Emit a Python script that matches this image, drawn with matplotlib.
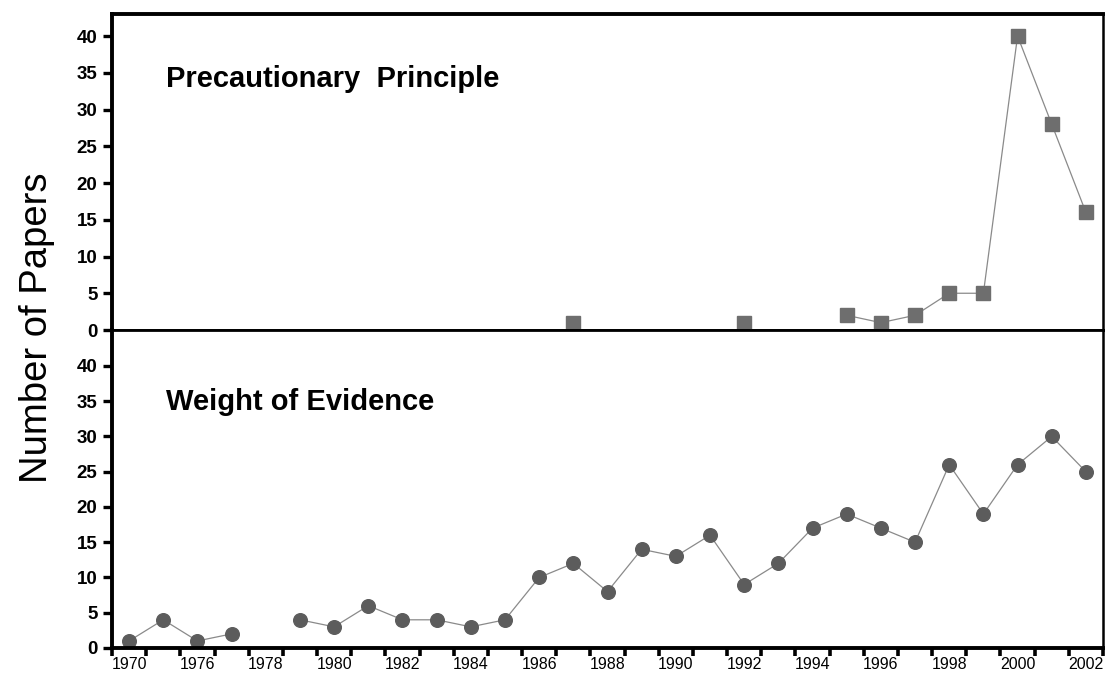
import numpy as np
from matplotlib import pyplot as plt

plt.rcParams['font.family'] = ['Liberation Sans', 'DejaVu Sans']

# years that have a slot on the x axis (1972-1975 are not in the data)
years = [1970, 1971, 1976, 1977, 1978, 1979, 1980, 1981, 1982, 1983,
         1984, 1985, 1986, 1987, 1988, 1989, 1990, 1991, 1992, 1993,
         1994, 1995, 1996, 1997, 1998, 1999, 2000, 2001, 2002]

nan = np.nan
precautionary = [nan, nan, nan, nan, nan, nan, nan, nan, nan, nan,
                 nan, nan, nan, 1, nan, nan, nan, nan, 1, nan,
                 nan, 2, 1, 2, 5, 5, 40, 28, 16]
weight_of_evidence = [1, 4, 1, 2, nan, 4, 3, 6, 4, 4,
                      3, 4, 10, 12, 8, 14, 13, 16, 9, 12,
                      17, 19, 17, 15, 26, 19, 26, 30, 25]

y_ticks = [0, 5, 10, 15, 20, 25, 30, 35, 40]
label_years = years[::2]

x = np.arange(len(years))

fig = plt.figure(figsize=(11.06, 6.8), dpi=100)
left, right = 112 / 1106, 1103 / 1106
top_ax = fig.add_axes([left, 1 - 330 / 680, right - left, 316 / 680])
bot_ax = fig.add_axes([left, 1 - 648 / 680, right - left, 318 / 680])

line_kw = dict(color='#8a8a8a', linewidth=0.9)

top_ax.plot(x, precautionary, marker='s', markersize=10.5,
            markerfacecolor='#6e6e6e', markeredgecolor='#6e6e6e',
            clip_on=False, **line_kw)
bot_ax.plot(x, weight_of_evidence, marker='o', markersize=9.8,
            markerfacecolor='#5c5c5c', markeredgecolor='#5c5c5c',
            clip_on=False, **line_kw)

top_ax.set_ylim(0, 43)
bot_ax.set_ylim(0, 45.1)

for ax in (top_ax, bot_ax):
    ax.set_xlim(-0.5, len(years) - 0.5)
    ax.set_yticks(y_ticks)
    ax.set_yticklabels([str(v) for v in y_ticks], fontsize=13.5,
                       fontweight='bold')
    ax.tick_params(axis='y', direction='out', length=6.5, width=2.4,
                   pad=4)
    for side in ('left', 'top', 'bottom'):
        ax.spines[side].set_linewidth(2.8)
    ax.spines['right'].set_linewidth(1.8)

top_ax.set_xticks([])
top_ax.spines['bottom'].set_linewidth(2.0)
bot_ax.spines['top'].set_linewidth(2.0)

# ticks on slot edges, year labels in the slot centres
bot_ax.set_xticks(np.arange(len(years) + 1) - 0.5)
bot_ax.set_xticklabels([])
bot_ax.set_xticks(x[::2], minor=True)
bot_ax.set_xticklabels([str(y) for y in label_years], minor=True,
                       fontsize=11.5)
bot_ax.tick_params(axis='x', which='major', direction='out', length=6,
                   width=2.6)
bot_ax.tick_params(axis='x', which='minor', length=0, pad=6.5)

top_ax.text(0.0545, 0.795, 'Precautionary  Principle', transform=top_ax.transAxes,
            fontsize=21, fontweight='bold', va='center', ha='left')
bot_ax.text(0.0545, 0.775, 'Weight of Evidence', transform=bot_ax.transAxes,
            fontsize=21, fontweight='bold', va='center', ha='left')

fig.text(37 / 1106, 1 - 328 / 680, 'Number of Papers', rotation=90,
         fontsize=27.5, ha='center', va='center')

fig.savefig('out.png', dpi=100)
